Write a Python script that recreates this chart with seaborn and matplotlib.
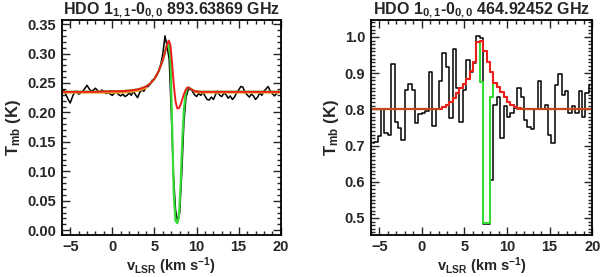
import numpy as np
import pandas as pd
import matplotlib
matplotlib.use("Agg")
import matplotlib.pyplot as plt
from matplotlib.ticker import MultipleLocator, FormatStrFormatter
import seaborn as sns

# ---- left panel: HDO 1_11-0_00 (fine channels, 0.25 km/s) ----
V_FINE = np.arange(-6.0, 20.01, 0.25)
TMB_893 = [
    0.232, 0.238, 0.230, 0.222, 0.216, 0.226, 0.234, 0.236, 0.231, 0.233,
    0.236, 0.241, 0.246, 0.240, 0.236, 0.238, 0.241, 0.237, 0.234, 0.238,
    0.236, 0.232, 0.234, 0.231, 0.229, 0.233, 0.235, 0.230, 0.228, 0.231,
    0.227, 0.229, 0.233, 0.229, 0.236, 0.230, 0.225, 0.234, 0.238, 0.236,
    0.243, 0.244, 0.248, 0.255, 0.257, 0.262, 0.270, 0.282, 0.300, 0.330,
    0.312, 0.290, 0.200, 0.095, 0.035, 0.014, 0.030, 0.100, 0.185, 0.226,
    0.238, 0.240, 0.236, 0.230, 0.227, 0.232, 0.229, 0.234, 0.228, 0.222,
    0.221, 0.226, 0.222, 0.230, 0.236, 0.229, 0.227, 0.233, 0.230, 0.224,
    0.228, 0.222, 0.226, 0.233, 0.238, 0.244, 0.243, 0.234, 0.230, 0.226,
    0.231, 0.228, 0.222, 0.226, 0.233, 0.229, 0.236, 0.240, 0.244, 0.236,
    0.232, 0.228, 0.232, 0.236, 0.233,
]

MODEL_V_893 = [-6, -2, 0, 1, 2, 3, 3.5, 4, 4.5, 5, 5.5, 6, 6.25, 6.5, 6.7, 6.9,
               7.1, 7.3, 7.5, 7.7, 7.9, 8.1, 8.3, 8.5, 8.7, 8.9, 9.1, 9.4, 9.8,
               10.5, 12, 20]
RED_893 = [0.235, 0.235, 0.236, 0.236, 0.237, 0.239, 0.241, 0.244, 0.249, 0.257,
           0.270, 0.289, 0.302, 0.316, 0.322, 0.314, 0.282, 0.246, 0.219, 0.207,
           0.207, 0.213, 0.222, 0.231, 0.238, 0.242, 0.242, 0.239, 0.236, 0.235,
           0.235, 0.235]
GREEN_893 = [0.235, 0.235, 0.236, 0.236, 0.237, 0.239, 0.241, 0.244, 0.249, 0.257,
             0.270, 0.289, 0.302, 0.315, 0.318, 0.290, 0.175, 0.060, 0.016, 0.012,
             0.022, 0.075, 0.150, 0.205, 0.232, 0.242, 0.242, 0.239, 0.236, 0.235,
             0.235, 0.235]
ORANGE_893 = [0.234, 0.234, 0.234, 0.234, 0.235, 0.237, 0.239, 0.242, np.nan, np.nan,
              np.nan, np.nan, np.nan, np.nan, np.nan, np.nan, np.nan, np.nan, np.nan,
              np.nan, np.nan, np.nan, np.nan, np.nan, np.nan, np.nan, np.nan, np.nan,
              0.235, 0.234, 0.234, 0.234]

# ---- right panel: HDO 1_01-0_00 (0.4 km/s channels) ----
V_CHAN = np.arange(-5.8, 20.0, 0.4)
TMB_464 = [
    0.706, 0.710, 0.725, 0.800, 0.734, 0.730, 0.925, 0.766, 0.748, 0.715,
    0.854, 0.869, 0.854, 0.762, 0.787, 0.790, 0.795, 0.902, 0.754, 0.800,
    0.878, 0.957, 0.918, 0.775, 0.967, 0.858, 0.766, 0.854, 0.936, 0.904,
    0.927, 1.004, 0.996, 0.483, 0.483, 0.605, 0.812, 0.835, 0.720, 0.810,
    0.780, 0.790, 0.803, 0.860, 0.835, 0.770, 0.750, 0.745, 0.800, 0.878,
    0.800, 0.812, 0.730, 0.706, 0.867, 0.897, 0.840, 0.850, 0.790, 0.810,
    0.790, 0.850, 0.780, 0.845, 0.867,
]
RED_464 = [0.800] * 19 + [
    0.800, 0.802, 0.806, 0.812, 0.820, 0.832, 0.845, 0.858, 0.870, 0.885,
    0.905, 0.930, 0.985, 0.990, 0.960, 0.932, 0.904, 0.872, 0.863, 0.849,
    0.835, 0.820, 0.812, 0.806, 0.803, 0.801,
] + [0.800] * 20
GREEN_464 = [0.800] * 19 + [
    0.800, 0.802, 0.806, 0.812, 0.820, 0.832, 0.845, 0.858, 0.870, 0.885,
    0.905, 0.930, 0.985, 0.875, 0.485, 0.485, 0.835, 0.872, 0.863, 0.849,
    0.835, 0.820, 0.812, 0.806, 0.803, 0.801,
] + [0.800] * 20
ORANGE_464 = [0.800] * 20 + [np.nan] * 23 + [0.800] * 22

TITLES = [r"HDO 1$_{1,1}$-0$_{0,0}$ 893.63869 GHz",
          r"HDO 1$_{0,1}$-0$_{0,0}$ 464.92452 GHz"]

BLACK, GREEN, RED = "#000000", "#33dd33", "#ee1c1c"
ORANGE, BROWN = "#e8a020", "#c8461c"

sns.set_style("ticks")
plt.rcParams["font.family"] = ["Liberation Sans", "DejaVu Sans"]
plt.rcParams["font.weight"] = "bold"
plt.rcParams["mathtext.fontset"] = "custom"
plt.rcParams["mathtext.rm"] = "Liberation Sans:bold"
plt.rcParams["mathtext.it"] = "Liberation Sans:bold"
plt.rcParams["mathtext.bf"] = "Liberation Sans:bold"

fig = plt.figure(figsize=(6.0, 2.77), dpi=100)
ax1 = fig.add_axes([0.103, 0.152, 0.365, 0.776])
ax2 = fig.add_axes([0.618, 0.152, 0.369, 0.776])


def style_axes(ax, title, ymajor, yminor, yfmt):
    ax.set_xlim(-6, 20)
    ax.xaxis.set_major_locator(MultipleLocator(5))
    ax.xaxis.set_minor_locator(MultipleLocator(1))
    ax.yaxis.set_major_locator(MultipleLocator(ymajor))
    ax.yaxis.set_minor_locator(MultipleLocator(yminor))
    ax.yaxis.set_major_formatter(FormatStrFormatter(yfmt))
    ax.tick_params(which="both", direction="in", top=True, right=True,
                   labelsize=10.5, width=1.0, pad=4)
    ax.tick_params(which="major", length=6)
    ax.tick_params(which="minor", length=3)
    for sp in ax.spines.values():
        sp.set_linewidth(1.3)
        sp.set_color("black")
    ax.set_title(title, fontsize=11.5, fontweight="bold", pad=2)
    ax.set_xlabel(r"v$_{\rm LSR}$ (km s$^{-1}$)", fontsize=10.5,
                  fontweight="bold", labelpad=1)
    ax.set_ylabel(r"T$_{\rm mb}$ (K)", fontsize=12, fontweight="bold",
                  labelpad=3)
    for lab in ax.get_xticklabels() + ax.get_yticklabels():
        lab.set_fontweight("bold")


# left panel
sns.lineplot(x=V_FINE, y=TMB_893, ax=ax1, color=BLACK, lw=1.1,
             estimator=None, sort=False)
sns.lineplot(x=MODEL_V_893, y=GREEN_893, ax=ax1, color=GREEN, lw=1.6,
             estimator=None, sort=False)
ax1.plot(MODEL_V_893, ORANGE_893, color=ORANGE, lw=1.8)
sns.lineplot(x=MODEL_V_893, y=RED_893, ax=ax1, color=RED, lw=1.4,
             estimator=None, sort=False)
ax1.set_ylim(-0.008, 0.357)
style_axes(ax1, TITLES[0], 0.05, 0.01, "%.2f")

# right panel
sns.lineplot(x=V_CHAN, y=TMB_464, ax=ax2, color=BLACK, lw=1.1,
             drawstyle="steps-mid", estimator=None, sort=False)
sns.lineplot(x=V_CHAN, y=GREEN_464, ax=ax2, color=GREEN, lw=1.5,
             drawstyle="steps-mid", estimator=None, sort=False)
sns.lineplot(x=V_CHAN, y=RED_464, ax=ax2, color=RED, lw=1.5,
             drawstyle="steps-mid", estimator=None, sort=False)
ax2.plot(V_CHAN, ORANGE_464, color=BROWN, lw=1.5, drawstyle="steps-mid")
ax2.set_ylim(0.453, 1.047)
style_axes(ax2, TITLES[1], 0.1, 0.01, "%.1f")

fig.savefig("out.png", dpi=100)
